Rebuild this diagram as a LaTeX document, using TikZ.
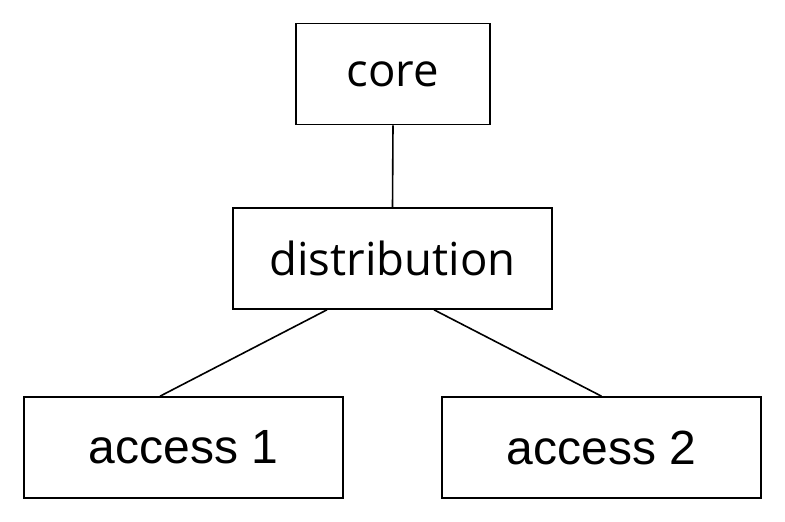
\documentclass[tikz,border=0pt]{standalone}
\usepackage{fontspec}
\newfontfamily\opensans{Open Sans}
\newfontfamily\arialike{Liberation Sans}
\begin{document}
\begin{tikzpicture}[x=1pt,y=-1pt,
  box/.style={draw=black,line width=1.6pt,fill=white,inner sep=0pt,minimum height=101pt},
  link/.style={draw=black,line width=1.6pt}]
\useasboundingbox (0,0) rectangle (785,522);
\node[box,minimum width=194pt,font=\opensans\fontsize{45.5}{52}\selectfont] (core) at (393,74) {core};
\node[box,minimum width=319pt,font=\opensans\fontsize{45.5}{52}\selectfont] (dist) at (392.5,258.5) {distribution};
\node[box,minimum width=319pt,font=\arialike\fontsize{48}{54}\selectfont] (acc1) at (183.5,447.5) {access 1};
\node[box,minimum width=319pt,font=\arialike\fontsize{48}{54}\selectfont] (acc2) at (601.5,447.5) {access 2};
\draw[link] (core.south) -- (dist.north);
\draw[link] ([xshift=-65.5pt]dist.south) -- ([xshift=-23.5pt]acc1.north);
\draw[link] ([xshift=41.5pt]dist.south) -- (acc2.north);
\end{tikzpicture}
\end{document}
